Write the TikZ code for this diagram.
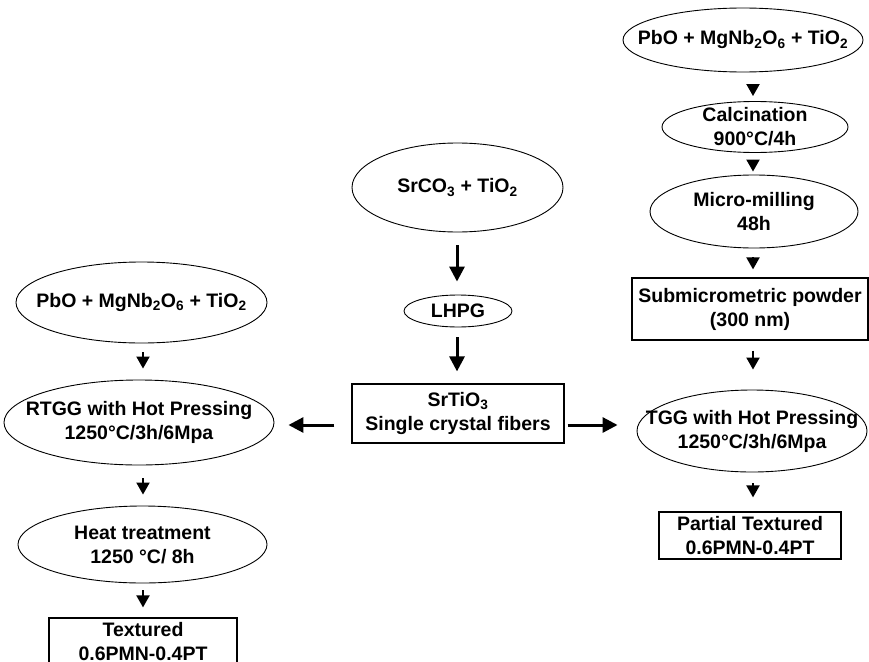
\documentclass[tikz,border=0pt]{standalone}
\usepackage{fontspec}
\setmainfont{Liberation Sans}
\usetikzlibrary{shapes.geometric,arrows.meta}
\begin{document}
\begin{tikzpicture}[x=1pt,y=-1pt,
  every node/.style={font=\fontsize{19.5}{24}\selectfont\bfseries, align=center, inner sep=0pt},
  oval/.style={ellipse, draw, line width=0.9pt},
  rbox/.style={rectangle, draw, line width=1.2pt},
  arr/.style={-{Triangle[length=12pt,width=13pt]}, line width=2pt},
  arrbig/.style={-{Triangle[length=15pt,width=15pt]}, line width=3pt}]
\useasboundingbox (0,0) rectangle (869,661);
\clip (0,0) rectangle (869,661);
% column / row guides
\coordinate (colL) at (143,0);
\coordinate (colM) at (457,0);
\coordinate (colR) at (753,0);
\coordinate (rowA) at (0,425);
% left column
\node[oval, minimum width=251, minimum height=81, label={center:{PbO + MgNb\textsubscript{2}O\textsubscript{6} + TiO\textsubscript{2}}}] (pbo1) at (141.5,302.5) {};
\node[oval, minimum width=270, minimum height=85, label={center:{RTGG with Hot Pressing\\1250°C/3h/6Mpa}}] (rtgg) at (139,422.5) {};
\node[oval, minimum width=249, minimum height=77, label={center:{Heat treatment\\1250 °C/ 8h}}] (heat) at (142.5,544.5) {};
\node[rbox, minimum width=188, minimum height=47] (tex) at (143,641.5) {Textured\\0.6PMN-0.4PT};
% middle column
\node[oval, minimum width=211, minimum height=89, label={center:{SrCO\textsubscript{3} + TiO\textsubscript{2}}}] (src) at (457.5,187.5) {};
\node[oval, minimum width=108, minimum height=32, label={center:{LHPG}}] (lhpg) at (458,311) {};
\node[rbox, minimum width=212, minimum height=59] (fib) at (458,413.5) {SrTiO\textsubscript{3}\\Single crystal fibers};
% right column
\node[oval, minimum width=240, minimum height=64, label={center:{PbO + MgNb\textsubscript{2}O\textsubscript{6} + TiO\textsubscript{2}}}] (pbo2) at (743,40) {};
\node[oval, minimum width=186, minimum height=51, label={center:{Calcination\\900°C/4h}}] (calc) at (755,127) {};
\node[oval, minimum width=208, minimum height=73, label={center:{Micro-milling\\48h}}] (mill) at (754,211.5) {};
\node[rbox, minimum width=236, minimum height=62] (sub) at (750,309) {Submicrometric powder\\(300 nm)};
\node[oval, minimum width=230, minimum height=82, label={center:{TGG with Hot Pressing\\1250°C/3h/6Mpa}}] (tgg) at (752,431) {};
\node[rbox, minimum width=182, minimum height=47] (part) at (750,535.5) {Partial Textured\\0.6PMN-0.4PT};
% connectors
\draw[arr, shorten <=9, shorten >=11] (pbo1.south -| colL) -- (rtgg.north -| colL);
\draw[arr, shorten <=13, shorten >=11] (rtgg.south -| colL) -- (heat.north -| colL);
\draw[arr, shorten <=7, shorten >=10] (heat.south -| colL) -- (tex.north -| colL);
\draw[arrbig, shorten <=13, shorten >=13] (src.south -| colM) -- (lhpg.north -| colM);
\draw[arrbig, shorten <=10, shorten >=12] (lhpg.south -| colM) -- (fib.north -| colM);
\draw[arrbig, shorten <=17, shorten >=14] (fib.west |- rowA) -- (rtgg.east |- rowA);
\draw[arrbig, shorten <=3, shorten >=19] (fib.east |- rowA) -- (tgg.west |- rowA);
\draw[arr, shorten <=13, shorten >=5] (pbo2.south -| colR) -- (calc.north -| colR);
\draw[arr, shorten <=7, shorten >=3] (calc.south -| colR) -- (mill.north -| colR);
\draw[arr, shorten <=9, shorten >=8] (mill.south -| colR) -- (sub.north -| colR);
\draw[arr, shorten <=10, shorten >=20] (sub.south -| colR) -- (tgg.north -| colR);
\draw[arr, shorten <=11, shorten >=14] (tgg.south -| colR) -- (part.north -| colR);
\end{tikzpicture}
\end{document}
